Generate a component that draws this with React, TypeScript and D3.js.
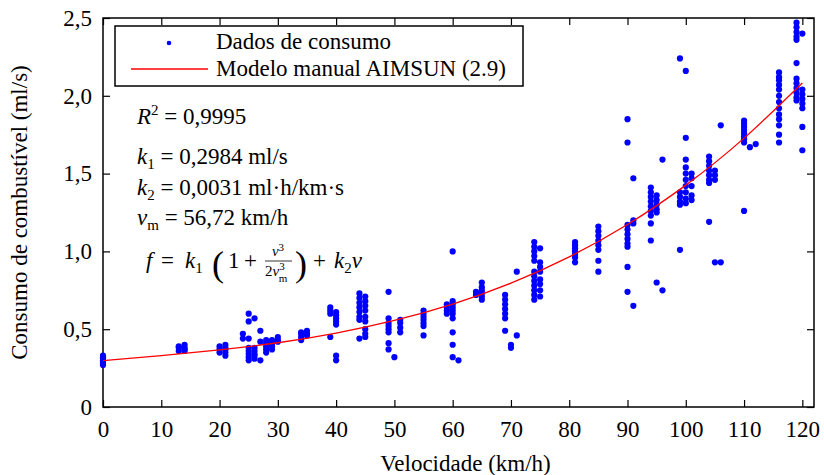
import React, { useEffect, useRef } from 'react'
import * as d3 from 'd3'

// velocidade (km/h) of each group of readings
const speeds = [0, 13, 14, 20, 21, 24, 25, 26, 27, 28, 29, 30, 34, 35, 39, 40, 44, 45, 49, 50, 51, 55, 59, 60, 61,
    64, 65, 69, 70, 71, 74, 75, 81, 85, 90, 91, 94, 95, 96, 99, 100, 101, 104, 105, 106, 110, 111, 112, 116, 119, 120]

// consumo (ml/s) read at each speed above
const consumption = [
    [0.27, 0.28, 0.29, 0.30, 0.31, 0.32, 0.33],
    [0.36, 0.38, 0.39],
    [0.36, 0.37, 0.38, 0.40],
    [0.35, 0.37, 0.39],
    [0.33, 0.35, 0.37, 0.38, 0.40],
    [0.44, 0.47],
    [0.60, 0.55, 0.44, 0.38, 0.36, 0.34, 0.32, 0.30],
    [0.57, 0.38, 0.36, 0.34, 0.33, 0.31],
    [0.49, 0.42, 0.30],
    [0.35, 0.37, 0.39, 0.41, 0.43],
    [0.37, 0.39, 0.41, 0.43],
    [0.42, 0.43, 0.45],
    [0.43, 0.45, 0.47, 0.48],
    [0.46, 0.47, 0.49],
    [0.60, 0.62, 0.64, 0.45],
    [0.53, 0.55, 0.57, 0.59, 0.61, 0.33, 0.30],
    [0.73, 0.70, 0.67, 0.64, 0.61, 0.58, 0.56, 0.44],
    [0.71, 0.68, 0.65, 0.62, 0.58, 0.55, 0.50, 0.47, 0.45],
    [0.74, 0.57, 0.54, 0.52, 0.50, 0.48, 0.41, 0.37],
    [0.32],
    [0.56, 0.54, 0.51, 0.48],
    [0.62, 0.60, 0.58, 0.56, 0.54, 0.52, 0.46],
    [0.66, 0.64, 0.62, 0.60],
    [1.00, 0.68, 0.66, 0.64, 0.62, 0.60, 0.57, 0.48, 0.40, 0.32],
    [0.30],
    [0.74, 0.72],
    [0.80, 0.77, 0.75, 0.73, 0.71, 0.69],
    [0.72, 0.69, 0.66, 0.63, 0.60, 0.57, 0.49],
    [0.40, 0.38],
    [0.87, 0.46],
    [1.06, 1.03, 1.00, 0.97, 0.94, 0.87, 0.84, 0.81, 0.78, 0.75, 0.72, 0.69],
    [1.02, 0.93, 0.90, 0.87, 0.82, 0.79, 0.75, 0.71],
    [1.06, 1.04, 1.02, 1.00, 0.98, 0.96, 0.93],
    [1.16, 1.13, 1.10, 1.07, 1.04, 1.01, 0.94, 0.87],
    [1.85, 1.70, 1.17, 1.14, 1.11, 1.08, 1.05, 1.03, 0.90, 0.74],
    [1.47, 1.20, 1.18, 0.65],
    [1.41, 1.38, 1.35, 1.32, 1.29, 1.26, 1.23, 1.18, 1.07],
    [1.36, 1.33, 1.30, 1.27, 1.25, 0.80],
    [1.59, 0.75],
    [2.24, 1.38, 1.35, 1.32, 1.30, 1.01],
    [2.16, 1.73, 1.59, 1.54, 1.50, 1.46, 1.42, 1.38, 1.34, 1.31],
    [1.50, 1.47, 1.42, 1.36, 1.33],
    [1.61, 1.58, 1.55, 1.52, 1.49, 1.46, 1.44, 1.19],
    [1.52, 1.49, 1.46, 0.93],
    [1.81, 0.93],
    [1.84, 1.82, 1.80, 1.78, 1.76, 1.74, 1.72, 1.70, 1.26],
    [1.67],
    [1.69],
    [2.15, 2.12, 2.10, 2.07, 2.04, 2.00, 1.96, 1.92, 1.88, 1.85, 1.81, 1.75, 1.70],
    [2.47, 2.44, 2.41, 2.38, 2.36, 2.21, 2.11, 2.08, 2.05, 2.02, 1.99, 1.97],
    [2.40, 2.04, 2.01, 1.98, 1.95, 1.92, 1.80, 1.65]
]

// red model curve
const modelSpeeds = [0, 10, 20, 30, 40, 50, 60, 70, 80, 90, 100, 110, 120]
const modelValues = [0.298, 0.330, 0.367, 0.413, 0.475, 0.556, 0.661, 0.796, 0.965, 1.173, 1.426, 1.728, 2.083]

const xTicks = [0, 10, 20, 30, 40, 50, 60, 70, 80, 90, 100, 110, 120]
const yTicks = [0, 0.5, 1, 1.5, 2, 2.5]
const yTickLabels = ['0', '0,5', '1,0', '1,5', '2,0', '2,5']
const legendLabels = ['Dados de consumo', 'Modelo manual AIMSUN (2.9)']

const FONT = 'Liberation Serif, Tinos, Times New Roman, Times, DejaVu Serif, serif'
const BLUE = '#0000ff'
const RED = '#ff0000'

export default function App() {
    const ref = useRef<SVGSVGElement>(null)

    useEffect(() => {
        const node = ref.current
        const svg = d3.select(node)
        svg.selectAll('*').remove()

        const width = 824
        const height = 475
        const margin = { top: 18, right: 10, bottom: 68, left: 103 }

        const x = d3.scaleLinear().domain([0, 122]).range([margin.left, width - margin.right])
        const y = d3.scaleLinear().domain([0, 2.5]).range([height - margin.bottom, margin.top])

        const styleAxis = g => {
            g.select('.domain').remove()
            g.selectAll('.tick line').attr('stroke', '#000').attr('stroke-width', 1.2)
            g.attr('font-family', null).attr('font-size', null)
            g.selectAll('.tick text').attr('fill', '#000')
        }

        svg.append('g')
            .attr('transform', `translate(0,${y(0)})`)
            .call(d3.axisBottom(x).tickValues(xTicks).tickSizeInner(-7).tickSizeOuter(0).tickPadding(14).tickFormat(d3.format('d')))
            .call(styleAxis)
        svg.append('g')
            .attr('transform', `translate(0,${y(2.5)})`)
            .call(d3.axisTop(x).tickValues(xTicks).tickSizeInner(-7).tickSizeOuter(0).tickFormat(() => ''))
            .call(styleAxis)
        svg.append('g')
            .attr('transform', `translate(${x.range()[0]},0)`)
            .call(d3.axisLeft(y).tickValues(yTicks).tickSizeInner(-7).tickSizeOuter(0).tickPadding(11)
                .tickFormat((d, i) => yTickLabels[i]))
            .call(styleAxis)
        svg.append('g')
            .attr('transform', `translate(${x.range()[1]},0)`)
            .call(d3.axisRight(y).tickValues(yTicks).tickSizeInner(-7).tickSizeOuter(0).tickFormat(() => ''))
            .call(styleAxis)

        // frame
        svg.append('rect')
            .attr('x', x.range()[0]).attr('y', y(2.5))
            .attr('width', x.range()[1] - x.range()[0]).attr('height', y(0) - y(2.5))
            .attr('fill', 'none').attr('stroke', '#000').attr('stroke-width', 1.5)

        // data points
        const points = speeds.flatMap((v, i) => consumption[i].map(c => ({ v, c })))
        svg.append('g')
            .selectAll('circle')
            .data(points)
            .join('circle')
            .attr('cx', d => x(d.v))
            .attr('cy', d => y(d.c))
            .attr('r', 3.1)
            .attr('fill', BLUE)

        // model curve
        const line = d3.line<number>()
            .x((d, i) => x(modelSpeeds[i]))
            .y(d => y(d))
            .curve(d3.curveNatural)
        svg.append('path')
            .attr('d', line(modelValues))
            .attr('fill', 'none')
            .attr('stroke', RED)
            .attr('stroke-width', 1.3)

        // axis titles
        svg.append('text')
            .attr('x', (x.range()[0] + x.range()[1]) / 2 + 7)
            .attr('y', 471)
            .attr('text-anchor', 'middle')
            .text('Velocidade (km/h)')
        svg.append('text')
            .attr('transform', `translate(27,${(y(0) + y(2.5)) / 2}) rotate(-90)`)
            .attr('text-anchor', 'middle')
            .text('Consumo de combustível (ml/s)')

        // legend
        const legend = svg.append('g')
        legend.append('rect')
            .attr('x', 115).attr('y', 26).attr('width', 408).attr('height', 60)
            .attr('fill', '#fff').attr('stroke', '#000').attr('stroke-width', 1.5)
        legend.append('circle').attr('cx', 169).attr('cy', 43).attr('r', 2.3).attr('fill', BLUE)
        legend.append('line')
            .attr('x1', 131).attr('x2', 208).attr('y1', 69).attr('y2', 69)
            .attr('stroke', RED).attr('stroke-width', 1.3)
        legend.selectAll('text.lbl')
            .data(legendLabels)
            .join('text')
            .attr('class', 'lbl')
            .attr('x', 216)
            .attr('y', (d, i) => 49 + i * 27)
            .text(d => d)

        // annotations
        const notes = svg.append('g').attr('fill', '#000')

        const r2 = notes.append('text').attr('x', 137).attr('y', 124)
        r2.append('tspan').attr('font-style', 'italic').text('R')
        r2.append('tspan').style('font-size', '15px').attr('dy', -9).text('2')
        r2.append('tspan').attr('dy', 9).text(' = 0,9995')

        const k1 = notes.append('text').attr('x', 137).attr('y', 164)
        k1.append('tspan').attr('font-style', 'italic').text('k')
        k1.append('tspan').style('font-size', '15px').attr('dy', 5).text('1')
        k1.append('tspan').attr('dy', -5).text(' = 0,2984 ml/s')

        const k2 = notes.append('text').attr('x', 137).attr('y', 195)
        k2.append('tspan').attr('font-style', 'italic').text('k')
        k2.append('tspan').style('font-size', '15px').attr('dy', 5).text('2')
        k2.append('tspan').attr('dy', -5).text(' = 0,0031 ml·h/km·s')

        const vm = notes.append('text').attr('x', 137).attr('y', 225)
        vm.append('tspan').attr('font-style', 'italic').text('v')
        vm.append('tspan').style('font-size', '15px').attr('dy', 5).text('m')
        vm.append('tspan').attr('dy', -5).text(' = 56,72 km/h')

        // f = k1 (1 + v^3 / 2vm^3) + k2 v
        const fy = 268
        notes.append('text').attr('x', 146).attr('y', fy).attr('font-style', 'italic').text('f')
        notes.append('text').attr('x', 161).attr('y', fy).text('=')
        const fk1 = notes.append('text').attr('x', 185).attr('y', fy)
        fk1.append('tspan').attr('font-style', 'italic').text('k')
        fk1.append('tspan').style('font-size', '15px').attr('dy', 5).text('1')
        notes.append('text').attr('x', 212).attr('y', fy + 8).style('font-size', '36px').style('font-weight', 300).text('(')
        notes.append('text').attr('x', 228).attr('y', fy).text('1')
        notes.append('text').attr('x', 244).attr('y', fy).text('+')
        const num = notes.append('text').attr('x', 278).attr('y', 256).style('font-size', '15px').attr('text-anchor', 'middle')
        num.append('tspan').attr('font-style', 'italic').text('v')
        num.append('tspan').style('font-size', '11px').attr('dy', -5).text('3')
        notes.append('line').attr('x1', 265).attr('x2', 292).attr('y1', 261).attr('y2', 261)
            .attr('stroke', '#000').attr('stroke-width', 0.8)
        const den = notes.append('text').attr('x', 265).attr('y', 276).style('font-size', '15px')
        den.append('tspan').text('2')
        den.append('tspan').attr('font-style', 'italic').text('v')
        den.append('tspan').style('font-size', '11px').attr('dy', -6).text('3')
        den.append('tspan').style('font-size', '11px').attr('dx', -6).attr('dy', 12).text('m')
        notes.append('text').attr('x', 295).attr('y', fy + 8).style('font-size', '36px').style('font-weight', 300).text(')')
        notes.append('text').attr('x', 313).attr('y', fy).text('+')
        const fk2 = notes.append('text').attr('x', 334).attr('y', fy)
        fk2.append('tspan').attr('font-style', 'italic').text('k')
        fk2.append('tspan').style('font-size', '15px').attr('dy', 5).text('2')
        fk2.append('tspan').attr('dy', -5).attr('font-style', 'italic').text('v')
    }, [])

    return (
        <svg ref={ref} width={824} height={475}
            style={{ position: 'absolute', left: 0, top: 0, background: '#fff', fontFamily: FONT, fontSize: 23 }} />
    )
}
